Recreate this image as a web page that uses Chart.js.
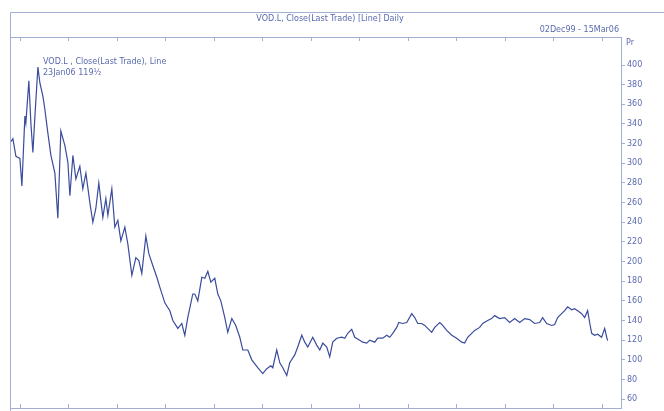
<!DOCTYPE html>
<html>
<head>
<meta charset="utf-8">
<script src="https://cdn.jsdelivr.net/npm/chart.js@4"></script>
<style>
  html, body { margin: 0; padding: 0; background: #fff; }
  #wrap { width: 664px; height: 411px; position: relative; }
</style>
</head>
<body>
<div id="wrap"><canvas id="priceChart" width="664" height="411"></canvas></div>
<script>
// VOD.L close. x = months since 01Jan00
const months = [
  -1.11, -0.87, -0.49, 0, 0.25, 0.62, 0.74, 1.11, 1.36, 1.61, 1.86, 2.23, 2.47, 2.85, 3.09, 3.46, 3.84,
  4.33, 4.70, 5.07, 5.57, 5.94, 6.19, 6.56, 6.93, 7.42, 7.79, 8.17, 8.66, 9.03, 9.40, 9.77, 10.02,
  10.27, 10.64, 10.89, 11.38, 11.75, 12.12, 12.50, 12.99, 13.36, 13.86, 14.35, 14.72, 15.09, 15.59,
  15.96, 16.45, 16.95, 17.32, 17.94, 18.56, 18.93, 19.55, 20.04, 20.41, 20.78, 21.40, 21.65, 22.02,
  22.52, 22.89, 23.26, 23.63, 24.12, 24.50, 24.87, 25.36, 25.73, 26.23, 26.72, 27.22, 27.59, 28.21,
  28.70, 29.44, 30.06, 30.56, 31.05, 31.30, 31.79, 32.17, 32.54, 33.03, 33.40, 34.02, 34.39, 34.89,
  35.26, 35.63, 36.25, 36.74, 37.12, 37.49, 37.98, 38.35, 38.72, 39.22, 39.84, 40.21, 40.58, 41.07,
  41.45, 42.06, 42.44, 42.93, 43.30, 43.92, 44.29, 44.91, 45.40, 45.78, 46.15, 46.64, 46.89, 47.38,
  47.88, 48.50, 48.87, 49.24, 49.73, 50.11, 50.48, 50.97, 51.34, 51.96, 52.33, 52.83, 53.45, 54.06,
  54.68, 55.05, 55.42, 55.92, 56.29, 56.91, 57.28, 57.90, 58.39, 58.76, 59.38, 60.00, 60.62, 61.24,
  61.86, 62.48, 63.10, 63.71, 64.33, 64.70, 65.20, 65.82, 66.19, 66.56, 67.05, 67.43, 67.80, 68.29,
  68.66, 69.04, 69.53, 69.90, 70.27, 70.52, 70.77, 71.14, 71.51, 72.00, 72.38, 72.63, 72.75
];
const closes = [
  322, 325, 307, 305, 277, 348, 341, 384, 341, 311, 348, 398, 382, 368, 355, 331, 308,
  290, 244, 333, 318, 301, 267, 308, 284, 297, 274, 290, 260, 240, 254, 280, 262,
  245, 264, 247, 274, 235, 242, 221, 235, 218, 186, 204, 201, 188, 226,
  208, 196, 184, 174, 158, 150, 140, 132, 137, 125, 143, 167, 167, 160,
  184, 183, 190, 179, 183, 167, 160, 143, 128, 142, 135, 123, 110, 110,
  100, 92, 86, 91, 94, 92, 110, 97, 92, 84, 97, 105, 113, 125,
  118, 113, 123, 115, 110, 117, 113, 103, 118, 122, 123, 122, 127, 131,
  123, 120, 118, 117, 120, 118, 122, 122, 125, 123, 127, 133, 138, 137,
  138, 147, 143, 137, 137, 135, 132, 128, 133, 138, 135, 130, 125, 122,
  118, 117, 123, 127, 130, 133, 137, 140, 142, 145, 142, 143, 138, 142,
  138, 142, 141, 137, 138, 143, 137, 135, 136, 143, 147, 150, 154, 151,
  152, 150, 147, 143, 150, 138, 127, 125, 126, 123, 132, 123, 119.5
];

const titleText = 'VOD.L, Close(Last Trade) [Line] Daily';
const rangeText = '02Dec99 - 15Mar06';
const legendLine1 = 'VOD.L , Close(Last Trade), Line';
const legendLine2 = '23Jan06 119½';
const unitText = 'Pr';

const frameColor = '#a3aed3';
const textColor = '#5a6aae';
const font = '8px "DejaVu Sans", Verdana, sans-serif';

// frame, inner tick marks and header texts
const framePlugin = {
  id: 'frame',
  afterDraw(chart) {
    const c = chart.ctx;
    const { right, top, bottom } = chart.chartArea;
    const xs = chart.scales.x;
    c.save();
    c.strokeStyle = frameColor;
    c.lineWidth = 1;
    c.beginPath();
    c.moveTo(10.5, 12.5); c.lineTo(664, 12.5);
    c.moveTo(10.5, 12.5); c.lineTo(10.5, 411);
    c.moveTo(10.5, top + 0.5); c.lineTo(right, top + 0.5);
    c.moveTo(10.5, bottom + 0.5); c.lineTo(right, bottom + 0.5);
    xs.ticks.forEach(t => {
      const px = Math.round(xs.getPixelForValue(t.value)) + 0.5;
      c.moveTo(px, top); c.lineTo(px, top + 4);
      c.moveTo(px, bottom); c.lineTo(px, bottom - 4);
    });
    c.stroke();

    c.fillStyle = textColor;
    c.font = font;
    c.textBaseline = 'middle';
    c.textAlign = 'center';
    c.fillText(titleText, 330, 19);
    c.textAlign = 'right';
    c.fillText(rangeText, 619, 30);
    c.textAlign = 'left';
    c.fillText(unitText, 626, 43);
    c.fillText(legendLine1, 43, 62);
    c.fillText(legendLine2, 43, 73);
    c.restore();
  }
};

new Chart(document.getElementById('priceChart').getContext('2d'), {
  type: 'line',
  data: {
    datasets: [{
      data: months.map((m, i) => ({ x: m, y: closes[i] })),
      borderColor: '#3a4c9c',
      borderWidth: 1.2,
      pointRadius: 0,
      tension: 0,
      fill: false
    }]
  },
  options: {
    responsive: false,
    animation: false,
    layout: { padding: { left: 11, top: 37, right: 0, bottom: 3 } },
    plugins: { legend: { display: false }, tooltip: { enabled: false } },
    scales: {
      x: {
        type: 'linear',
        min: -1.1,
        max: 74.4,
        ticks: { display: false, stepSize: 6, includeBounds: false },
        grid: { display: false },
        border: { display: false },
        afterFit: s => { s.height = 0; s.paddingLeft = 0; s.paddingRight = 0; }
      },
      y: {
        position: 'right',
        min: 51,
        max: 428.5,
        ticks: {
          stepSize: 20,
          includeBounds: false,
          color: textColor,
          font: { family: '"DejaVu Sans", Verdana, sans-serif', size: 8 },
          padding: 2
        },
        grid: { drawOnChartArea: false, tickLength: 4, color: frameColor },
        border: { color: frameColor },
        afterBuildTicks: s => { s.ticks = s.ticks.filter(t => t.value <= 400); },
        afterFit: s => { s.width = 43; s.paddingTop = 0; s.paddingBottom = 0; }
      }
    }
  },
  plugins: [framePlugin]
});
</script>
</body>
</html>
